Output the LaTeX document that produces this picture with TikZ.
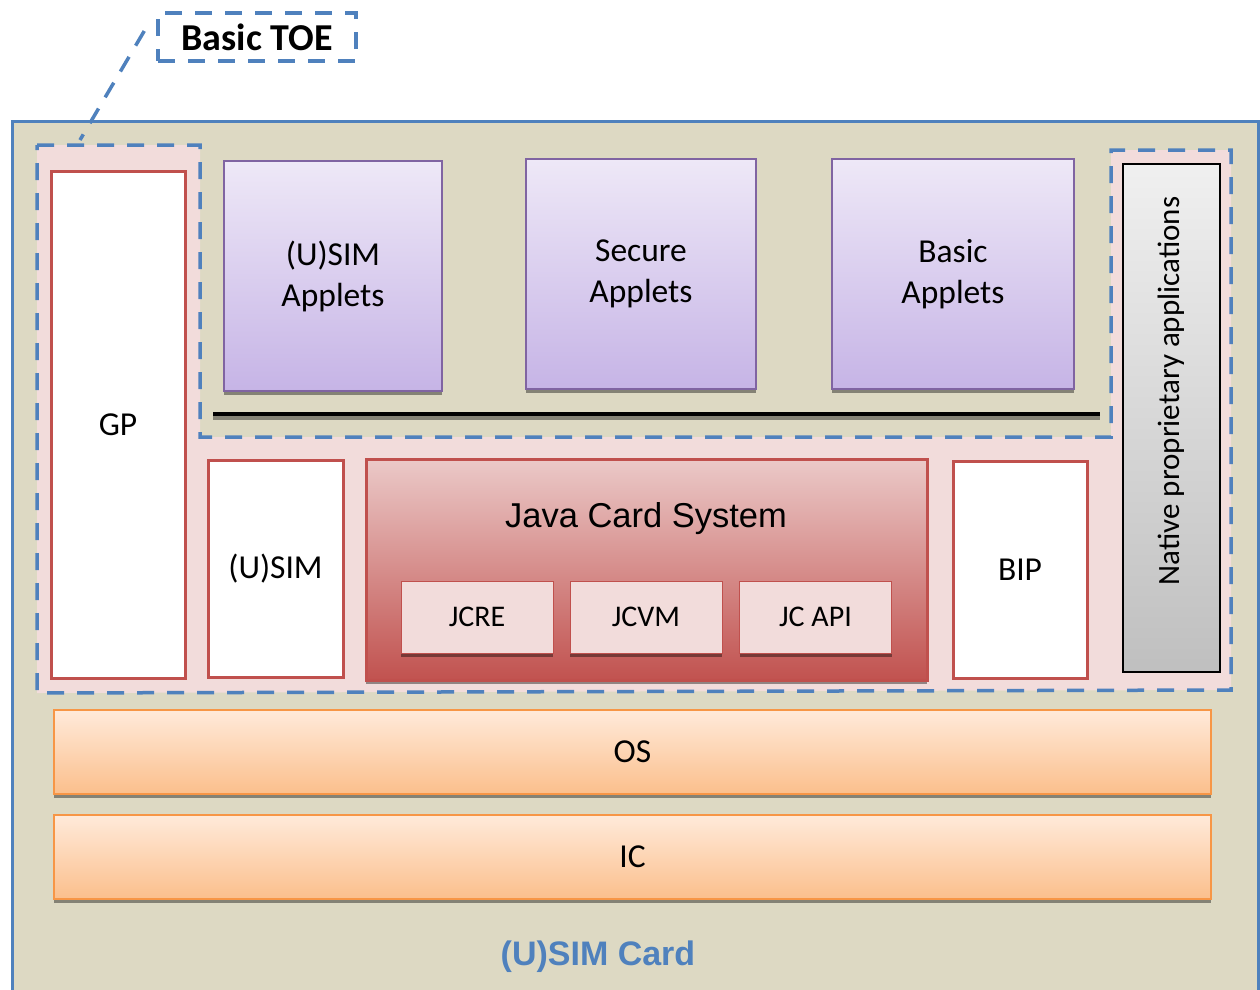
\documentclass[tikz,border=0pt]{standalone}
\usepackage{fontspec}
\setmainfont{Carlito}
\newfontfamily\arialfont{Liberation Sans}
\usetikzlibrary{positioning,shadows}

\definecolor{cardblue}{HTML}{4F81BD}
\definecolor{cardkhaki}{HTML}{DDD9C3}
\definecolor{toepink}{HTML}{F2DCDB}
\definecolor{toered}{HTML}{C0504D}
\definecolor{appletedge}{HTML}{8064A2}
\definecolor{appletlight}{HTML}{EEE8F7}
\definecolor{appletdark}{HTML}{C6B4E6}
\definecolor{osedge}{HTML}{F79646}
\definecolor{oslight}{HTML}{FFEADA}
\definecolor{osdark}{HTML}{FBBF8C}
\definecolor{jcslight}{HTML}{EBC9C8}
\definecolor{jcsmid}{HTML}{D9A2A1}
\definecolor{jcsdark}{HTML}{C1524F}

\tikzset{
  strip/.style={drop shadow={shadow xshift=0pt, shadow yshift=-4pt, fill=black, opacity=0.4}},
  toe line/.style={draw=cardblue, line width=3.5pt, dash pattern=on 17pt off 13pt},
  red box/.style={draw=toered, line width=3pt, fill=white, font=\fontsize{33.5}{40}\selectfont},
  applet/.style={draw=appletedge, line width=1.5pt, top color=appletlight, bottom color=appletdark,
    strip, align=center, minimum width=#1, minimum height=230pt, font=\fontsize{33.5}{41}\selectfont},
  jc part/.style={draw=toered, line width=1pt, fill=toepink, strip, minimum width=152pt,
    minimum height=72pt, font=\fontsize{30}{34}\selectfont},
  layer/.style={draw=osedge, line width=1.5pt, top color=oslight, bottom color=osdark, strip,
    minimum width=1157pt, minimum height=84pt, font=\fontsize{33.5}{40}\selectfont},
}

\begin{document}
\begin{tikzpicture}[x=1pt, y=-1pt]

  \useasboundingbox (0,0) rectangle (1260,989);

  % card and TOE area
  \draw [cardblue, line width=3pt, fill=cardkhaki] (12,1000) -- (12,121) -- (1258,121) -- (1258,1000);
  \fill [toepink] (37,145) -- (200,145) -- (200,437) -- (1111,437) -- (1111,150)
    -- (1231,150) -- (1231,690) -- (37,693) -- cycle;
  \draw [toe line] (37,145) -- (200,145) -- (200,437) -- (1111,437) -- (1111,150)
    -- (1231,150) -- (1231,690) -- (37,693) -- cycle;

  \node [toe line, fill=white, minimum width=198pt, minimum height=48pt,
    font=\fontsize{38}{42}\selectfont\bfseries] (toelabel) at (257,37) {Basic TOE};
  \coordinate (toecorner) at (80,140);
  \draw [toe line] ([xshift=-12pt, yshift=6pt]toelabel.west) -- (toecorner);

  % applets
  \node [applet=218pt] (usimapplets) at (333,276) {(U)SIM\\Applets};
  \node [applet=230pt] (secureapplets) at (641,274) {Secure\\Applets};
  \node [applet=242pt] (basicapplets) at (953,274) {Basic\\Applets};
  \node [fill=black, strip, minimum width=887pt, minimum height=4pt, inner sep=0pt] (appletbase) at (656.5,414) {};

  % platform
  \node [red box, minimum width=134pt, minimum height=507pt] (gp) at (118,424.5) {GP};
  \node [red box, minimum width=135pt, minimum height=217pt] (usim) at (275.5,568.5) {(U)SIM};
  \node [draw=toered, line width=3pt, top color=jcslight, middle color=jcsmid, bottom color=jcsdark,
    strip, minimum width=561pt, minimum height=221pt] (jcs) at (646.5,569.5) {};
  \node [font=\arialfont\fontsize{34.5}{40}\selectfont] (jcstitle) at (646,519) {Java Card System};
  \foreach \n/\l/\x in {jcre/JCRE/477, jcvm/JCVM/646, jcapi/JC API/815.5}
  \node [jc part] (\n) at (\x,617) {\l};
  \node [red box, minimum width=134pt, minimum height=217pt] (bip) at (1020,569.5) {BIP};
  \node [draw=black, line width=1.5pt, top color=black!6, bottom color=black!25,
    minimum width=97pt, minimum height=508pt] (native) at (1171.5,418) {};
  \node [rotate=90, font=\fontsize{31}{36}\selectfont] (nativetext) at (1171,391) {Native proprietary applications};

  % lower layers
  \node [layer] (os) at (632.5,752) {OS};
  \node [layer] (ic) at (632.5,857) {IC};

  \node [text=cardblue, font=\arialfont\fontsize{34}{40}\selectfont\bfseries] (cardname) at (598,957) {(U)SIM Card};

\end{tikzpicture}
\end{document}
